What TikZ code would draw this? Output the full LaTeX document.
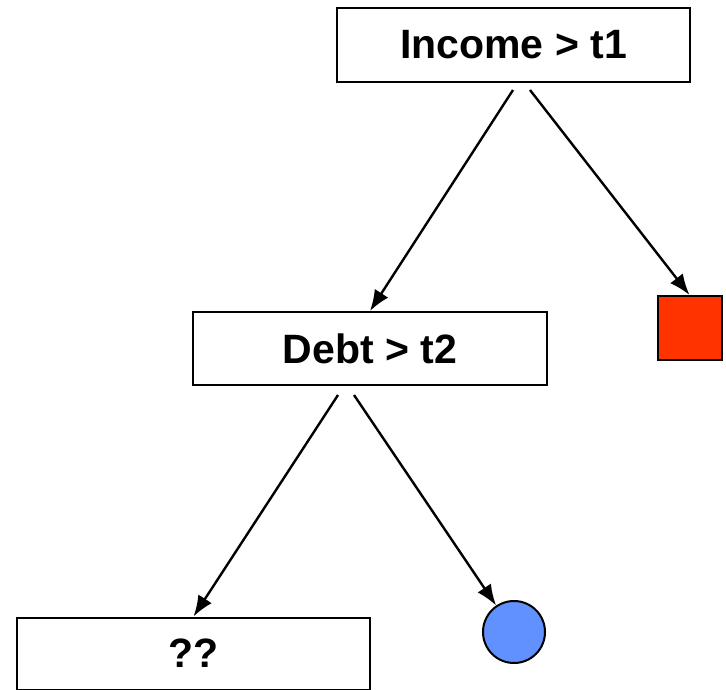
\documentclass[tikz,border=0pt]{standalone}
\usepackage{fontspec}
\setmainfont{Liberation Sans}
\usetikzlibrary{arrows.meta}
\definecolor{leafred}{HTML}{FF3300}
\definecolor{leafblue}{HTML}{6190FF}
\tikzset{
  testbox/.style={draw=black, line width=2pt, fill=white, inner sep=0pt, font=\fontsize{41}{45}\selectfont\bfseries},
  edge/.style={line width=2.4pt, -{Latex[length=21pt,width=16pt]}},
}
\begin{document}
\begin{tikzpicture}[x=1pt,y=-1pt]
\useasboundingbox (0,0) rectangle (726,689);
\node[testbox, minimum width=353pt, minimum height=74pt] (inc) at (513.5,45) {Income > t1};
\node[testbox, minimum width=354pt, minimum height=73pt] (debt) at (370,348.5) {Debt > t2};
\node[testbox, minimum width=353pt, minimum height=72pt] (unk) at (193.5,653.5) {??};
\node[draw=black, line width=2pt, fill=leafred, minimum size=64pt, inner sep=0pt] (red) at (689.5,328) {};
\node[draw=black, line width=2pt, fill=leafblue, circle, minimum size=62pt, inner sep=0pt] (blue) at (514,632) {};
\coordinate (s1) at (513,90);
\coordinate (s2) at (530,90);
\coordinate (s3) at (338,395);
\coordinate (s4) at (354,395);
\draw[edge] (s1) -- (debt.north);
\draw[edge] (s2) -- (red.north);
\draw[edge] (s3) -- (unk.north);
\draw[edge] (s4) -- (blue);
\end{tikzpicture}
\end{document}
